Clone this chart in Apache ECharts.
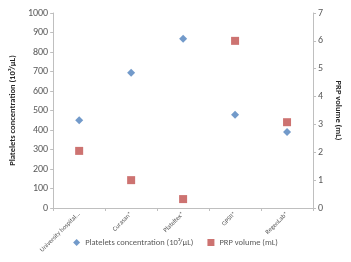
<!DOCTYPE html>
<html>
<head>
<meta charset="utf-8">
<script src="https://cdn.jsdelivr.net/npm/echarts@6/dist/echarts.min.js"></script>
<style>
html, body { margin: 0; padding: 0; background: #fff; }
#chart { width: 351px; height: 262px; }
</style>
</head>
<body>
<div id="chart"></div>
<script>
var categories = ['University hospital...', 'Curasan*', 'Plateltex*', 'GPSII*', 'RegenLab*'];
var plateletsData = [450, 693, 868, 478, 390];
var prpData = [2.05, 1.0, 0.32, 6.0, 3.08];
var leftTicks = [0, 100, 200, 300, 400, 500, 600, 700, 800, 900, 1000];
var rightTicks = [0, 1, 2, 3, 4, 5, 6, 7];

var axisGray = '#bfbfbf';
var textGray = '#595959';
var font = 'Carlito, "Liberation Sans", "Open Sans", sans-serif';

var chart = echarts.init(document.getElementById('chart'));
var option = {
    animation: false,
    textStyle: { fontFamily: font },
    grid: { left: 43, right: 29, top: 13, bottom: 54 },
    legend: {
        bottom: 10,
        left: 'center',
        itemWidth: 7,
        itemHeight: 7,
        itemGap: 14,
        textStyle: { fontSize: 8.5, color: textGray, fontFamily: font },
        data: [
            { name: 'Platelets concentration (10³/µL)', icon: 'diamond' },
            { name: 'PRP volume (mL)', icon: 'rect' }
        ]
    },
    xAxis: {
        type: 'category',
        boundaryGap: true,
        data: categories,
        axisLine: { lineStyle: { color: axisGray } },
        axisTick: { show: true, alignWithLabel: false, length: 3, lineStyle: { color: axisGray } },
        axisLabel: { rotate: 45, fontSize: 6.5, color: textGray, margin: 5, interval: 0 },
        splitLine: { show: false }
    },
    yAxis: [
        {
            type: 'value',
            min: leftTicks[0],
            max: leftTicks[leftTicks.length - 1],
            interval: 100,
            name: 'Platelets concentration (10³/µL)',
            nameLocation: 'middle',
            nameRotate: 90,
            nameGap: 32,
            nameTextStyle: { fontSize: 8.5, fontWeight: 'bold', color: '#262626' },
            axisLine: { show: true, lineStyle: { color: axisGray } },
            axisTick: { show: true, length: 3, lineStyle: { color: axisGray } },
            axisLabel: { fontSize: 10, color: textGray, margin: 5, formatter: function (v) { return String(v); } },
            splitLine: { show: false }
        },
        {
            type: 'value',
            min: rightTicks[0],
            max: rightTicks[rightTicks.length - 1],
            interval: 1,
            name: 'PRP volume (mL)',
            nameLocation: 'middle',
            nameRotate: -90,
            nameGap: 16,
            nameTextStyle: { fontSize: 8.5, fontWeight: 'bold', color: '#262626' },
            axisLine: { show: true, lineStyle: { color: axisGray } },
            axisTick: { show: true, length: 3, lineStyle: { color: axisGray } },
            axisLabel: { fontSize: 10, color: textGray, margin: 5 },
            splitLine: { show: false }
        }
    ],
    series: [
        {
            name: 'Platelets concentration (10³/µL)',
            type: 'scatter',
            yAxisIndex: 0,
            symbol: 'diamond',
            symbolSize: 8,
            itemStyle: { color: '#4f81bd' },
            data: plateletsData
        },
        {
            name: 'PRP volume (mL)',
            type: 'scatter',
            yAxisIndex: 1,
            symbol: 'rect',
            symbolSize: 8,
            itemStyle: { color: '#c0504d' },
            data: prpData
        }
    ]
};
chart.setOption(option);
</script>
</body>
</html>
